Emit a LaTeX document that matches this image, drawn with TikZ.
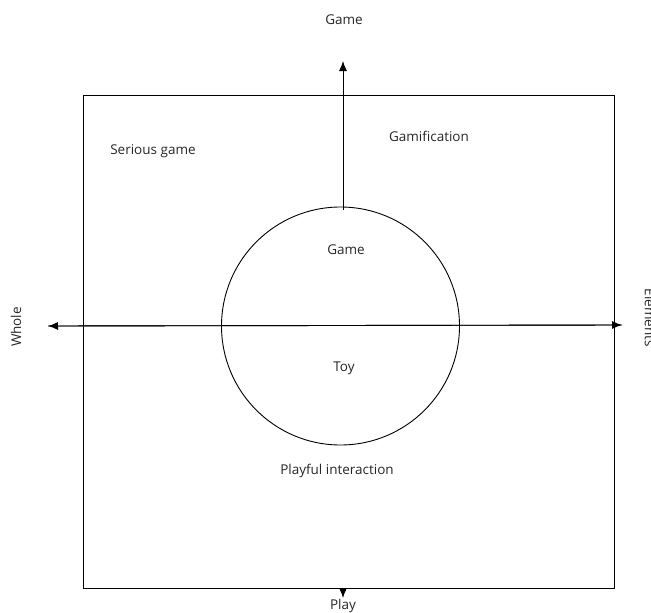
\documentclass[tikz,border=0pt]{standalone}
\usepackage{fontspec}
\setmainfont{Open Sans}
\usetikzlibrary{arrows.meta}
\begin{document}
\begin{tikzpicture}[x=1pt,y=-1pt,
  lbl/.style={font=\fontsize{13.5}{15}\selectfont, text=black!85, inner sep=0pt},
  ln/.style={draw=black, line width=0.9pt},
  arr/.style={ln, -{Latex[length=10pt,width=8pt]}}]
\useasboundingbox (0,0) rectangle (651,613);
\node[ln, minimum width=531pt, minimum height=493pt, inner sep=0pt] (sq) at (348.5,341.5) {};
\node[ln, circle, minimum size=238pt, inner sep=0pt] (c) at (340.5,326) {};
\coordinate (ct) at (343,210);
\coordinate (gt) at (343,61);
\coordinate (pb) at (343,598);
\coordinate (sb) at (343,588);
\coordinate (wl) at (48,326);
\coordinate (er) at (622,325);
\draw[arr] (ct) -- (gt);
\draw[arr] (sb) -- (pb);
\draw[arr] (er) -- (wl);
\draw[arr] (wl) -- (er);
\node[lbl] (tg) at (344,20) {Game};
\node[lbl] (tp) at (343,606) {Play};
\node[lbl, rotate=90] (tw) at (16,327) {Whole};
\node[lbl, rotate=-90] (te) at (650,318) {Elements};
\node[lbl] (sg) at (153,151) {Serious game};
\node[lbl] (gm) at (429,136) {Gamification};
\node[lbl] (ig) at (346,250) {Game};
\node[lbl] (ty) at (344,368) {Toy};
\node[lbl] (pi) at (337,471) {Playful interaction};
\end{tikzpicture}
\end{document}
